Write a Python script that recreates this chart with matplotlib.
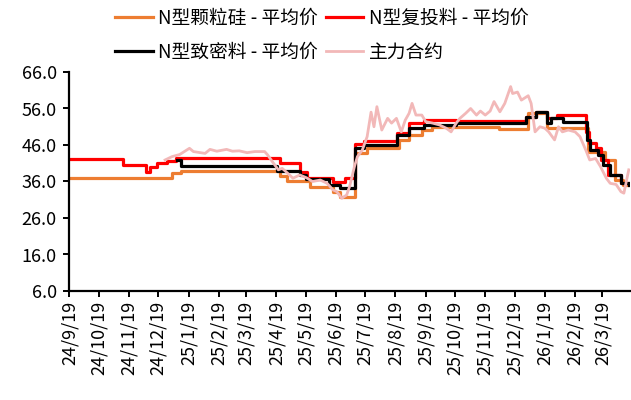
import matplotlib
matplotlib.use('Agg')
import matplotlib.pyplot as plt
import matplotlib.dates as mdates
import pandas as pd

plt.rcParams['font.family'] = ['Noto Sans CJK SC', 'DejaVu Sans']

# N-type granular silicon, weekly average (yuan/kg), value holds until next date
granular_dates = ['2024-09-19', '2025-01-02', '2025-01-11', '2025-04-23',
                  '2025-04-30', '2025-05-23', '2025-06-16', '2025-06-23',
                  '2025-07-09', '2025-07-21', '2025-08-23', '2025-09-02',
                  '2025-09-15', '2025-09-25', '2025-12-03', '2026-01-02',
                  '2026-01-21', '2026-03-04', '2026-03-22', '2026-04-01',
                  '2026-04-09', '2026-04-15']
granular_vals = [37.0, 38.2, 38.8, 37.6, 36.0, 34.4, 33.0, 31.8, 43.7, 45.1,
                 47.4, 48.7, 50.1, 51.0, 50.4, 54.7, 50.6, 44.2, 41.9, 36.4,
                 35.0, 35.0]

# N-type recharge material, weekly average (yuan/kg)
recharge_dates = ['2024-09-19', '2024-11-13', '2024-12-06', '2024-12-11',
                  '2024-12-18', '2024-12-28', '2025-01-06', '2025-04-23',
                  '2025-05-13', '2025-05-20', '2025-06-16', '2025-06-28',
                  '2025-07-09', '2025-07-18', '2025-08-21', '2025-09-02',
                  '2025-09-17', '2025-10-20', '2025-12-31', '2026-01-10',
                  '2026-01-21', '2026-01-31', '2026-03-02', '2026-03-05',
                  '2026-03-12', '2026-03-18', '2026-03-25', '2026-04-07',
                  '2026-04-15']
recharge_vals = [42.3, 40.5, 38.7, 40.0, 41.0, 41.7, 42.5, 41.2, 38.7, 37.0,
                 35.8, 37.0, 46.4, 47.2, 49.4, 52.1, 52.8, 52.6, 53.8, 55.1,
                 53.3, 54.2, 49.5, 46.5, 45.2, 41.9, 37.8, 35.6, 35.6]

# N-type dense material, weekly average (yuan/kg)
dense_dates = ['2025-01-07', '2025-01-11', '2025-04-20', '2025-05-13',
               '2025-05-19', '2025-06-12', '2025-06-23', '2025-07-09',
               '2025-07-18', '2025-08-21', '2025-09-02', '2025-09-17',
               '2025-10-20', '2025-12-31', '2026-01-10', '2026-01-21',
               '2026-01-25', '2026-02-07', '2026-03-03', '2026-03-06',
               '2026-03-14', '2026-03-20', '2026-03-27', '2026-04-07',
               '2026-04-15']
dense_vals = [41.9, 40.2, 39.0, 37.8, 36.6, 35.0, 34.1, 45.1, 46.0, 48.7,
              50.6, 51.5, 52.0, 53.8, 55.1, 52.0, 53.3, 52.4, 47.4, 44.6,
              43.3, 40.5, 37.8, 35.5, 35.0]

# Polysilicon main futures contract settlement (yuan/kg)
futures_dates = ['2024-12-26', '2025-01-02', '2025-01-10', '2025-01-20',
                 '2025-01-24', '2025-02-05', '2025-02-10', '2025-02-17',
                 '2025-02-27', '2025-03-05', '2025-03-12', '2025-03-20',
                 '2025-03-28', '2025-04-07', '2025-04-10', '2025-04-15',
                 '2025-04-21', '2025-04-25', '2025-04-30', '2025-05-06',
                 '2025-05-13', '2025-05-20', '2025-05-26', '2025-06-03',
                 '2025-06-10', '2025-06-16', '2025-06-20', '2025-06-25',
                 '2025-06-30', '2025-07-03', '2025-07-08', '2025-07-11',
                 '2025-07-16', '2025-07-21', '2025-07-25', '2025-07-28',
                 '2025-07-31', '2025-08-05', '2025-08-11', '2025-08-15',
                 '2025-08-20', '2025-08-25', '2025-08-29', '2025-09-02',
                 '2025-09-05', '2025-09-09', '2025-09-15', '2025-09-19',
                 '2025-09-26', '2025-10-03', '2025-10-10', '2025-10-15',
                 '2025-10-20', '2025-10-24', '2025-10-30', '2025-11-04',
                 '2025-11-10', '2025-11-14', '2025-11-19', '2025-11-24',
                 '2025-11-28', '2025-12-04', '2025-12-09', '2025-12-15',
                 '2025-12-17', '2025-12-22', '2025-12-26', '2026-01-02',
                 '2026-01-05', '2026-01-09', '2026-01-14', '2026-01-19',
                 '2026-01-23', '2026-01-29', '2026-02-02', '2026-02-06',
                 '2026-02-12', '2026-02-19', '2026-02-24', '2026-03-02',
                 '2026-03-06', '2026-03-12', '2026-03-17', '2026-03-23',
                 '2026-03-27', '2026-04-02', '2026-04-07', '2026-04-10',
                 '2026-04-15']
futures_vals = [41.9, 42.8, 43.4, 45.1, 44.2, 43.7, 44.8, 44.3, 44.8, 44.3,
                44.4, 43.9, 44.2, 44.2, 43.3, 41.4, 39.2, 39.6, 38.4, 36.9,
                37.8, 37.0, 36.0, 36.4, 35.5, 33.7, 33.2, 31.4, 32.3, 34.6,
                40.1, 42.8, 44.6, 48.3, 55.0, 51.0, 56.5, 50.1, 53.3, 52.0,
                53.3, 49.6, 52.8, 54.7, 57.4, 54.2, 54.2, 52.4, 52.0, 51.5,
                50.6, 49.6, 51.9, 53.3, 54.7, 56.0, 54.2, 55.3, 54.2, 55.3,
                57.9, 55.1, 57.4, 62.0, 60.1, 60.5, 58.3, 59.5, 57.4, 49.6,
                51.0, 50.6, 49.6, 47.4, 51.0, 49.6, 50.1, 49.6, 48.3, 44.6,
                41.9, 42.3, 40.1, 36.9, 35.5, 35.2, 33.2, 32.8, 39.2]

y_ticks = [6, 16, 26, 36, 46, 56, 66]

labels = ['N型颗粒硅 - 平均价', 'N型复投料 - 平均价',
          'N型致密料 - 平均价', '主力合约']
colors = ['#ED7D31', '#FF0000', '#000000', '#F2B8B8']


def date_label(v, pos):
    d = mdates.num2date(v)
    return '%d/%d/%d' % (d.year % 100, d.month, d.day)


def main():
    fig = plt.figure(figsize=(6.31, 4.0), dpi=100)
    ax = fig.add_axes([0.110, 0.2725, 0.888, 0.5475])

    l_gran, = ax.plot(pd.to_datetime(granular_dates), granular_vals,
                      drawstyle='steps-post', color=colors[0], lw=2.3)
    l_rech, = ax.plot(pd.to_datetime(recharge_dates), recharge_vals,
                      drawstyle='steps-post', color=colors[1], lw=2.3)
    l_dens, = ax.plot(pd.to_datetime(dense_dates), dense_vals,
                      drawstyle='steps-post', color=colors[2], lw=2.3)
    l_fut, = ax.plot(pd.to_datetime(futures_dates), futures_vals,
                     color=colors[3], lw=2.0)

    ax.set_ylim(6, 66)
    ax.set_yticks(y_ticks)
    ax.yaxis.set_major_formatter(plt.FuncFormatter(lambda v, p: '%.1f' % v))
    ax.set_xlim(pd.Timestamp('2024-09-19'), pd.Timestamp('2026-04-16'))
    ax.xaxis.set_major_locator(mdates.MonthLocator(bymonthday=19))
    ax.xaxis.set_major_formatter(plt.FuncFormatter(date_label))

    for side in ['top', 'right']:
        ax.spines[side].set_visible(False)
    for side in ['left', 'bottom']:
        ax.spines[side].set_linewidth(1.6)
    ax.tick_params(axis='both', direction='out', length=4, width=1.4,
                   labelsize=13)
    ax.tick_params(axis='x', labelrotation=90, pad=3)
    ax.tick_params(axis='y', pad=5)

    fig.legend([l_gran, l_dens, l_rech, l_fut],
               [labels[0], labels[2], labels[1], labels[3]],
               ncol=2, loc='upper center', bbox_to_anchor=(0.51, 1.0),
               frameon=False, fontsize=13.5, handlelength=2.0,
               handletextpad=0.3, columnspacing=0.4, labelspacing=0.7,
               borderaxespad=0.0)

    fig.savefig('out.png', dpi=100)


if __name__ == '__main__':
    main()
